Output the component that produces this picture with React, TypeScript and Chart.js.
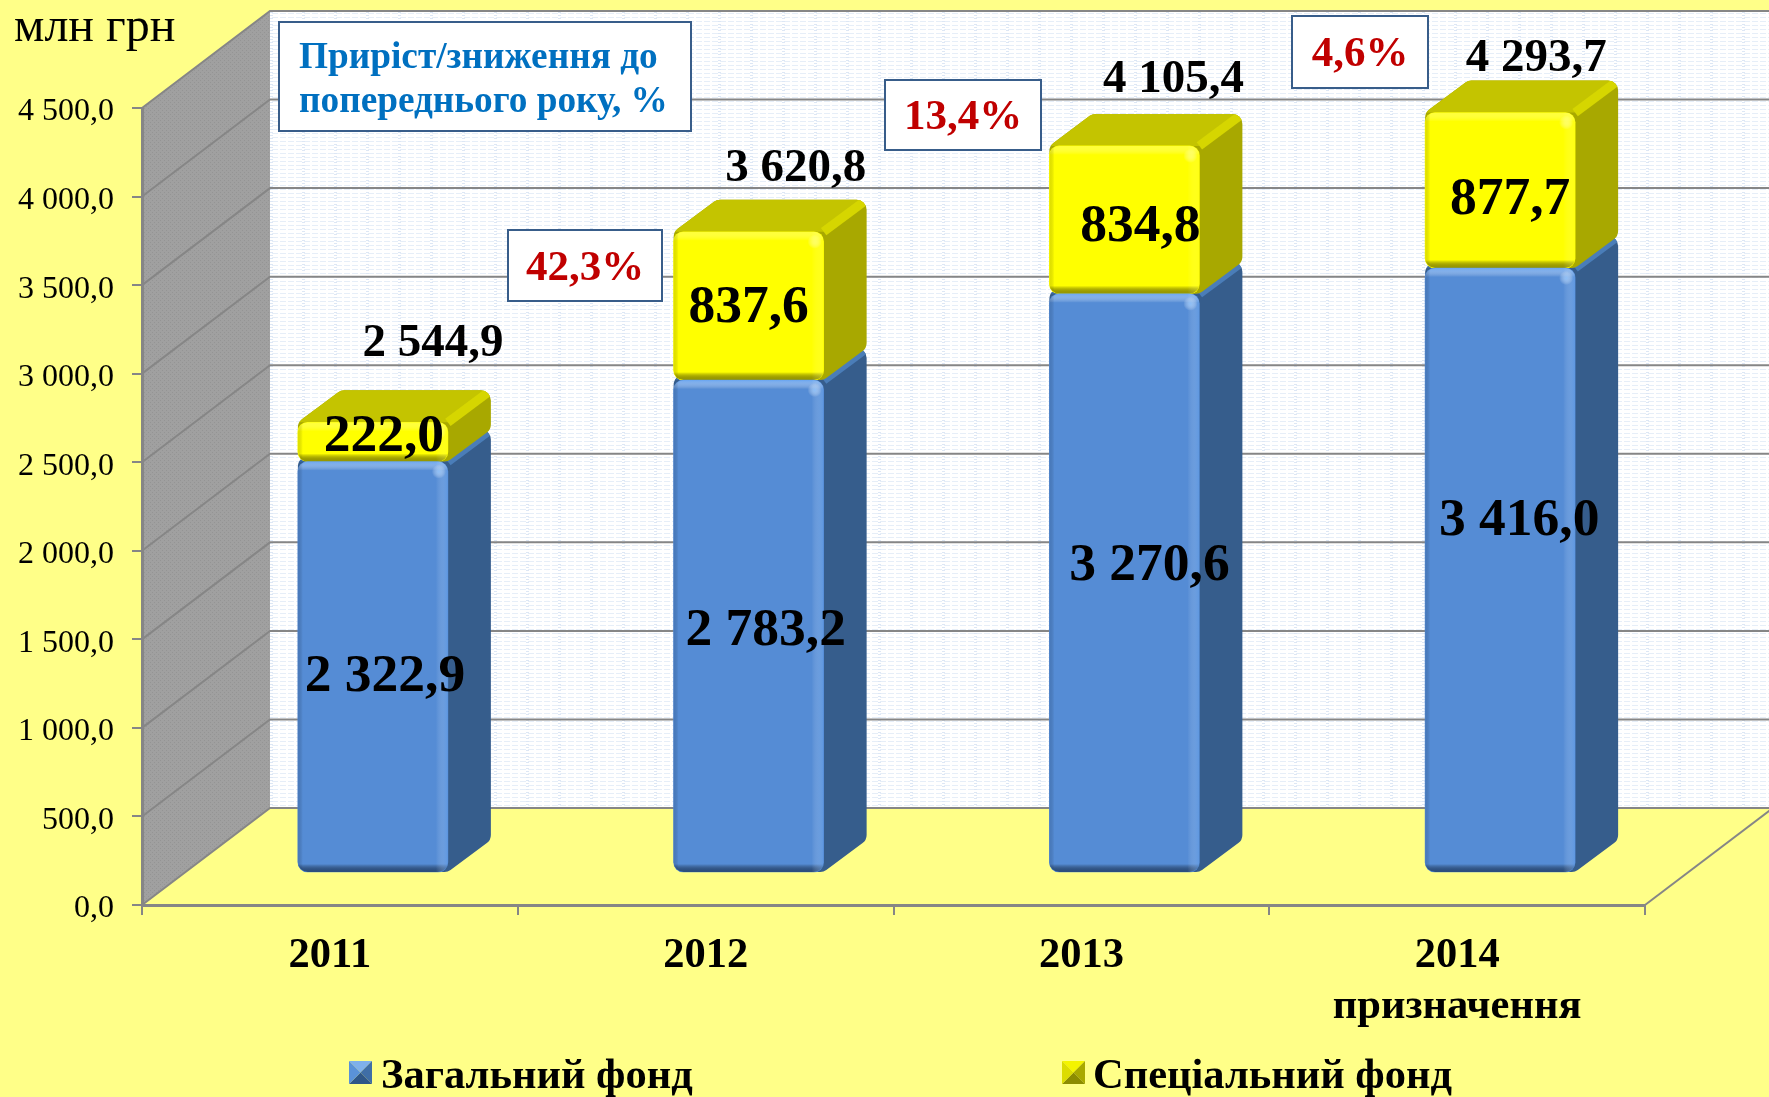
import React, { useEffect, useRef } from "react";
import { Chart, registerables } from "chart.js";

Chart.register(...registerables);

const categories: (string | string[])[] = ["2011", "2012", "2013", ["2014", "призначення"]];
const generalFund = [2322.9, 2783.2, 3270.6, 3416.0];
const specialFund = [222.0, 837.6, 834.8, 877.7];
const totals = [2544.9, 3620.8, 4105.4, 4293.7];
const growth = ["42,3%", "13,4%", "4,6%"];
const seriesNames = ["Загальний фонд", "Спеціальний фонд"];
const unitLabel = "млн грн";
const noteLines = ["Приріст/зниження до", "попереднього року, %"];

const W = 1769;
const H = 1097;
const SERIF = '"Liberation Serif", "Times New Roman", serif';
const GRID = "#868686";
const BG = "#ffff88";
// depth of the chart floor, and of one bar inside it
const WALL_DX = 128;
const WALL_DY = 97;
const BAR_SHIFT_X = 43;
const BAR_SHIFT_Y = 32;
const BAR_DX = 43;
const BAR_DY = 32;
const R = 10;

// label placement relative to each bar's front face centre
const generalLabelOffset = [[12, 10], [17, 5], [25, -17], [19, -49]];
const specialLabelOffset = [[11, -5], [0, 2], [16, 7], [10, 10]];
const totalLabelOffset = [[60, -78], [47, -63], [49, -66], [36, -54]];
const growthBoxes = [
  { x: 508, y: 230, w: 154, h: 71 },
  { x: 885, y: 80, w: 156, h: 70 },
  { x: 1292, y: 16, w: 136, h: 72 },
];

const fmt = (v: number) => {
  const [i, d] = Math.abs(v).toFixed(1).split(".");
  return i.replace(/\B(?=(\d{3})+(?!\d))/g, " ") + "," + d;
};

function makeWallPattern(ctx: CanvasRenderingContext2D) {
  const c = document.createElement("canvas");
  c.width = 32;
  c.height = 12;
  const g = c.getContext("2d")!;
  g.fillStyle = "#ffffff";
  g.fillRect(0, 0, 32, 12);
  g.fillStyle = "#e6eef8";
  for (let y = 1; y < 12; y += 4) {
    for (let x = 0; x < 32; x += 8) g.fillRect(x, y, 6, 1);
  }
  g.fillStyle = "#dde7f5";
  for (let y = 0; y < 12; y += 3) g.fillRect(14, y, 3, 1);
  return ctx.createPattern(c, "repeat")!;
}

function makeSidePattern(ctx: CanvasRenderingContext2D) {
  const c = document.createElement("canvas");
  c.width = 4;
  c.height = 4;
  const g = c.getContext("2d")!;
  g.fillStyle = "#a0a0a0";
  g.fillRect(0, 0, 4, 4);
  g.fillStyle = "#949494";
  g.fillRect(0, 0, 1, 1);
  g.fillRect(2, 2, 1, 1);
  return ctx.createPattern(c, "repeat")!;
}

function roundedPoly(ctx: CanvasRenderingContext2D, pts: number[][], r: number) {
  const n = pts.length;
  ctx.beginPath();
  const s = [(pts[n - 1][0] + pts[0][0]) / 2, (pts[n - 1][1] + pts[0][1]) / 2];
  ctx.moveTo(s[0], s[1]);
  for (let i = 0; i < n; i++) {
    const p = pts[i];
    const q = pts[(i + 1) % n];
    ctx.arcTo(p[0], p[1], q[0], q[1], r);
  }
  ctx.closePath();
}

function roundedRectPath(ctx: CanvasRenderingContext2D, l: number, t: number, w: number, h: number, r: number) {
  ctx.beginPath();
  ctx.roundRect(l, t, w, h, Math.min(r, h / 2));
}

const palettes = [
  { side: "#365d8c", top: "#3f6ea6", chamfer: "#4a7db8", topEdge: "rgba(110,170,245,0.9)", bright: "rgba(104,165,240,0.45)", low: "rgba(40,75,125,0.95)", spot: "rgba(150,200,255,0.8)" },
  { side: "#a8a800", top: "#c4c400", chamfer: "#d6d600", topEdge: "rgba(255,255,90,0.6)", bright: "rgba(255,255,60,0.3)", low: "rgba(150,150,0,0.95)", spot: "rgba(255,255,130,0.7)" },
];

function drawBack(chart: any, datasetIndex: number) {
  const ctx: CanvasRenderingContext2D = chart.ctx;
  const pal = palettes[datasetIndex];
  chart.getDatasetMeta(datasetIndex).data.forEach((el: any) => {
    const { x, y, base, width } = el.getProps(["x", "y", "base", "width"], true);
    const L = x - width / 2;
    const Rt = x + width / 2;
    const T = Math.min(y, base);
    const B = Math.max(y, base);
    ctx.save();
    roundedPoly(ctx, [[L, T], [L + BAR_DX, T - BAR_DY], [Rt + BAR_DX, T - BAR_DY], [Rt + BAR_DX, B - BAR_DY], [Rt, B], [L, B]], R);
    ctx.fillStyle = pal.side;
    ctx.fill();
    ctx.clip();
    ctx.fillStyle = pal.top;
    ctx.beginPath();
    ctx.moveTo(L - 5, T);
    ctx.lineTo(L + BAR_DX - 5, T - BAR_DY - 2);
    ctx.lineTo(Rt + BAR_DX + 5, T - BAR_DY - 2);
    ctx.lineTo(Rt, T);
    ctx.closePath();
    ctx.fill();
    ctx.strokeStyle = pal.chamfer;
    ctx.lineWidth = 9;
    ctx.beginPath();
    ctx.moveTo(Rt, T);
    ctx.lineTo(Rt + BAR_DX, T - BAR_DY);
    ctx.stroke();
    ctx.restore();
  });
}

function drawBevel(chart: any, datasetIndex: number) {
  const ctx: CanvasRenderingContext2D = chart.ctx;
  const pal = palettes[datasetIndex];
  chart.getDatasetMeta(datasetIndex).data.forEach((el: any) => {
    const { x, y, base, width } = el.getProps(["x", "y", "base", "width"], true);
    const L = x - width / 2;
    const Rt = x + width / 2;
    const T = Math.min(y, base);
    const B = Math.max(y, base);
    const h = B - T;
    ctx.save();
    roundedRectPath(ctx, L, T, width, h, R);
    ctx.clip();
    let g = ctx.createLinearGradient(0, T, 0, T + 9);
    g.addColorStop(0, pal.topEdge);
    g.addColorStop(1, "rgba(255,255,255,0)");
    ctx.fillStyle = g;
    ctx.fillRect(L, T, width, 9);
    g = ctx.createLinearGradient(0, B - 8, 0, B);
    g.addColorStop(0, "rgba(0,0,0,0)");
    g.addColorStop(1, pal.low);
    ctx.fillStyle = g;
    ctx.fillRect(L, B - 8, width, 8);
    g = ctx.createLinearGradient(Rt - 12, 0, Rt, 0);
    g.addColorStop(0, "rgba(255,255,255,0)");
    g.addColorStop(1, pal.bright);
    ctx.fillStyle = g;
    ctx.fillRect(Rt - 12, T, 12, h);
    g = ctx.createRadialGradient(Rt - 9, T + 10, 0, Rt - 9, T + 10, 7);
    g.addColorStop(0, pal.spot);
    g.addColorStop(1, "rgba(255,255,255,0)");
    ctx.fillStyle = g;
    ctx.fillRect(Rt - 17, T + 2, 16, 16);
    g = ctx.createLinearGradient(L, 0, L + 5, 0);
    g.addColorStop(0, pal.low);
    g.addColorStop(1, "rgba(0,0,0,0)");
    ctx.globalAlpha = 0.3;
    ctx.fillStyle = g;
    ctx.fillRect(L, T, 5, h);
    ctx.restore();
  });
}

function legendIcon(ctx: CanvasRenderingContext2D, x: number, y: number, s: number, colors: string[]) {
  const c = [x + s / 2, y + s / 2];
  const corners = [[x, y], [x + s, y], [x + s, y + s], [x, y + s]];
  corners.forEach((p, i) => {
    const q = corners[(i + 1) % 4];
    ctx.fillStyle = colors[i];
    ctx.beginPath();
    ctx.moveTo(p[0], p[1]);
    ctx.lineTo(q[0], q[1]);
    ctx.lineTo(c[0], c[1]);
    ctx.closePath();
    ctx.fill();
  });
}

const scene3d = {
  id: "scene3d",
  beforeDraw(chart: any) {
    const ctx: CanvasRenderingContext2D = chart.ctx;
    const { left, right, top, bottom } = chart.chartArea;
    const y = chart.scales.y;
    ctx.save();
    ctx.fillStyle = BG;
    ctx.fillRect(0, 0, W, H);

    // back wall
    ctx.fillStyle = makeWallPattern(ctx);
    ctx.fillRect(left + WALL_DX, top - WALL_DY, right - left + 10, bottom - top);
    // side wall
    ctx.fillStyle = makeSidePattern(ctx);
    ctx.beginPath();
    ctx.moveTo(left, bottom);
    ctx.lineTo(left + WALL_DX, bottom - WALL_DY);
    ctx.lineTo(left + WALL_DX, top - WALL_DY);
    ctx.lineTo(left, top);
    ctx.closePath();
    ctx.fill();

    ctx.strokeStyle = GRID;
    ctx.lineWidth = 2;
    y.ticks.forEach((t: any) => {
      const py = y.getPixelForValue(t.value);
      ctx.beginPath();
      ctx.moveTo(left, py);
      ctx.lineTo(left + WALL_DX, py - WALL_DY);
      ctx.lineTo(right + WALL_DX, py - WALL_DY);
      ctx.stroke();
    });
    // far floor corner
    ctx.beginPath();
    ctx.moveTo(right, bottom);
    ctx.lineTo(right + WALL_DX, bottom - WALL_DY);
    ctx.stroke();
    ctx.restore();
  },
  beforeDatasetsDraw(chart: any) {
    chart.ctx.save();
    chart.ctx.translate(BAR_SHIFT_X, -BAR_SHIFT_Y);
    drawBack(chart, 0);
    drawBack(chart, 1);
  },
  afterDatasetDraw(chart: any, args: any) {
    drawBevel(chart, args.index);
  },
  afterDatasetsDraw(chart: any) {
    chart.ctx.restore();
  },
  afterDraw(chart: any) {
    const ctx: CanvasRenderingContext2D = chart.ctx;
    ctx.save();
    ctx.textBaseline = "alphabetic";
    ctx.textAlign = "left";
    ctx.fillStyle = "#000000";
    ctx.font = `48px ${SERIF}`;
    ctx.fillText(unitLabel, 14, 41);

    // note box
    ctx.fillStyle = "#ffffff";
    ctx.strokeStyle = "#385d8a";
    ctx.lineWidth = 2;
    ctx.fillRect(279, 22, 412, 109);
    ctx.strokeRect(279, 22, 412, 109);
    ctx.fillStyle = "#0070c0";
    ctx.font = `bold 37.3px ${SERIF}`;
    ctx.fillText(noteLines[0], 299, 68);
    ctx.fillText(noteLines[1], 299, 112);

    // growth boxes
    growthBoxes.forEach((b, i) => {
      ctx.fillStyle = "#ffffff";
      ctx.fillRect(b.x, b.y, b.w, b.h);
      ctx.strokeRect(b.x, b.y, b.w, b.h);
      ctx.fillStyle = "#c00000";
      ctx.font = `bold 43px ${SERIF}`;
      ctx.textAlign = "center";
      ctx.textBaseline = "middle";
      ctx.fillText(growth[i], b.x + b.w / 2, b.y + b.h / 2 + 3);
    });

    // value labels
    ctx.fillStyle = "#000000";
    const gen = chart.getDatasetMeta(0).data;
    const spe = chart.getDatasetMeta(1).data;
    ctx.font = `bold 53.5px ${SERIF}`;
    gen.forEach((el: any, i: number) => {
      const c = el.getCenterPoint();
      ctx.fillText(fmt(generalFund[i]), c.x + BAR_SHIFT_X + generalLabelOffset[i][0], c.y - BAR_SHIFT_Y + generalLabelOffset[i][1]);
    });
    spe.forEach((el: any, i: number) => {
      const c = el.getCenterPoint();
      ctx.fillText(fmt(specialFund[i]), c.x + BAR_SHIFT_X + specialLabelOffset[i][0], c.y - BAR_SHIFT_Y + specialLabelOffset[i][1]);
    });
    ctx.font = `bold 47px ${SERIF}`;
    spe.forEach((el: any, i: number) => {
      const { x, y } = el.getProps(["x", "y"], true);
      ctx.fillText(fmt(totals[i]), x + BAR_SHIFT_X + totalLabelOffset[i][0], y - BAR_SHIFT_Y + totalLabelOffset[i][1]);
    });

    // legend
    ctx.textAlign = "left";
    ctx.textBaseline = "alphabetic";
    ctx.font = `bold 42.5px ${SERIF}`;
    legendIcon(ctx, 349, 1061, 23, ["#7fb0ea", "#3f6ea6", "#2f5788", "#5a92d8"]);
    ctx.fillStyle = "#000000";
    ctx.fillText(seriesNames[0], 381, 1088);
    legendIcon(ctx, 1062, 1061, 23, ["#f4f400", "#a8a800", "#8c8c00", "#dcdc00"]);
    ctx.fillStyle = "#000000";
    ctx.fillText(seriesNames[1], 1093, 1088);
    ctx.restore();
  },
};

export default function App() {
  const ref = useRef<HTMLCanvasElement>(null);
  useEffect(() => {
    document.body.style.margin = "0";
    const corners = { topLeft: R, topRight: R, bottomLeft: R, bottomRight: R };
    const chart = new Chart(ref.current!, {
      type: "bar",
      data: {
        labels: categories as any,
        datasets: [
          {
            label: seriesNames[0],
            data: generalFund,
            backgroundColor: "#558cd5",
            clip: false,
            barThickness: 150,
            borderRadius: corners,
            borderSkipped: false,
          },
          {
            label: seriesNames[1],
            data: specialFund,
            backgroundColor: "#ffff00",
            clip: false,
            barThickness: 150,
            borderRadius: corners,
            borderSkipped: false,
          },
        ] as any,
      },
      options: {
        responsive: false,
        animation: false,
        devicePixelRatio: 1,
        layout: { padding: { top: 108, right: 124, left: 0, bottom: 0 } },
        plugins: { legend: { display: false }, title: { display: false }, tooltip: { enabled: false } },
        scales: {
          x: {
            stacked: true,
            afterFit: (s: any) => { s.height = 192; },
            grid: { drawOnChartArea: false, color: GRID, tickLength: 10, lineWidth: 2, offset: true },
            border: { color: GRID, width: 3 },
            ticks: {
              color: "#000000",
              padding: 16,
              maxRotation: 0,
              autoSkip: false,
              font: { family: SERIF, size: 42.5, weight: "bold", lineHeight: 1.2 },
            },
          },
          y: {
            stacked: true,
            min: 0,
            max: 4500,
            afterFit: (s: any) => { s.width = 142; },
            grid: { drawOnChartArea: false, color: GRID, tickLength: 10, lineWidth: 2 },
            border: { color: GRID, width: 3 },
            ticks: {
              stepSize: 500,
              color: "#000000",
              padding: 18,
              labelOffset: 4,
              font: { family: SERIF, size: 32 },
              callback: (v: any) => fmt(Number(v)),
            },
          },
        },
      } as any,
      plugins: [scene3d],
    });
    return () => chart.destroy();
  }, []);
  return <canvas ref={ref} width={W} height={H} style={{ position: "fixed", left: 0, top: 0, width: W, height: H, display: "block" }} />;
}
